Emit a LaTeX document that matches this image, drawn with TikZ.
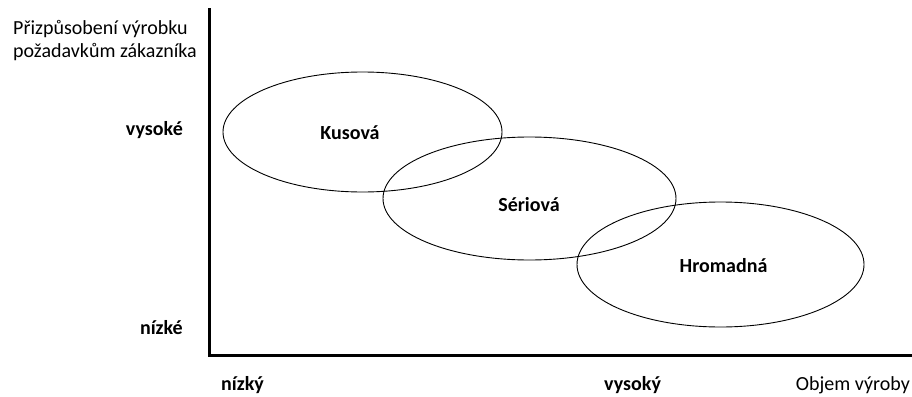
\documentclass[tikz,border=0pt]{standalone}
\usepackage{fontspec}
\setmainfont{Carlito}
\usetikzlibrary{shapes.geometric}
\begin{document}
\begin{tikzpicture}[x=1pt,y=-1pt,
  axis/.style={line width=3pt,line cap=rect},
  oval/.style={draw,ellipse,line width=0.9pt,inner sep=0pt},
  lbl/.style={font=\fontsize{20}{22}\selectfont\bfseries,inner sep=0pt},
  plain/.style={font=\fontsize{20}{22}\selectfont,inner sep=0pt,align=left}]
\useasboundingbox (0,0) rectangle (912,396);
\coordinate (top) at (209,10);
\coordinate (origin) at (209,355);
\coordinate (right) at (910,355);
\draw[axis] (top) -- (origin) -- (right);
\node[oval,minimum width=279pt,minimum height=120pt] (kus) at (362.5,132) {};
\node[oval,minimum width=293pt,minimum height=123pt] (ser) at (529.5,198.5) {};
\node[oval,minimum width=287pt,minimum height=125pt] (hro) at (720.5,264.5) {};
\node[lbl,anchor=base] (tkus) at (350,139) {Kusová};
\node[lbl,anchor=base] (tser) at (529,211) {Sériová};
\node[lbl,anchor=base] (thro) at (723.5,272) {Hromadná};
\node[lbl,anchor=base east] (vys) at (183,135) {vysoké};
\node[lbl,anchor=base east] (niz) at (183,334) {nízké};
\node[lbl,anchor=base west] (nizky) at (221,390) {nízký};
\node[lbl,anchor=base west] (vysoky) at (604,390) {vysoký};
\node[plain,anchor=base east] (objem) at (910,390) {Objem výroby};
\node[plain,anchor=base west] (prizp) at (13,35) {Přizpůsobení výrobku};
\node[plain,anchor=base west] (prizp2) at (13,57) {požadavkům zákazníka};
\end{tikzpicture}
\end{document}
